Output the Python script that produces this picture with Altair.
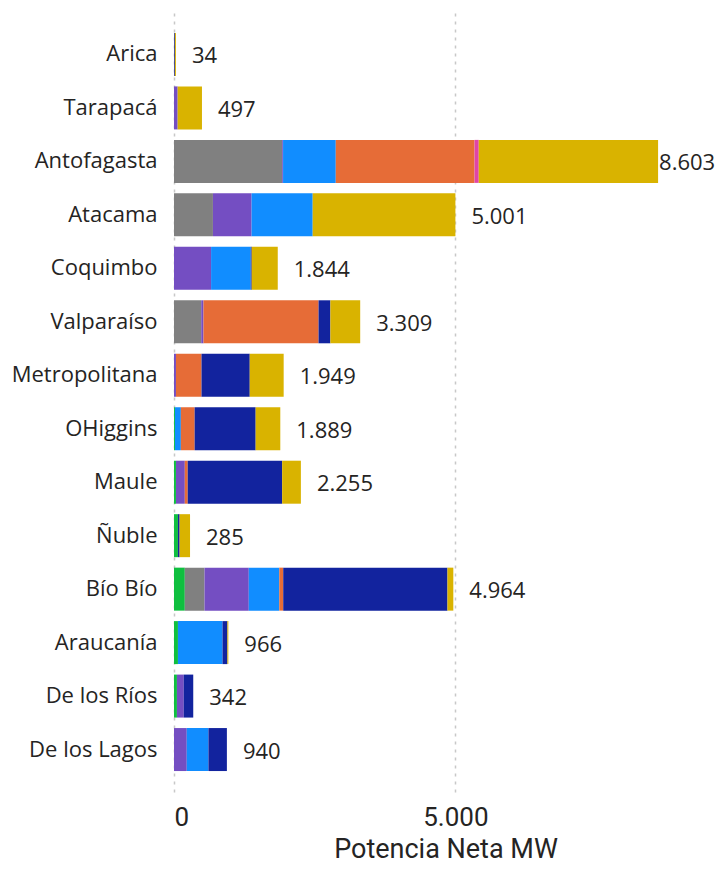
import altair as alt
import pandas as pd

regions = ["Arica", "Tarapacá", "Antofagasta", "Atacama", "Coquimbo", "Valparaíso",
           "Metropolitana", "OHiggins", "Maule", "Ñuble", "Bío Bío", "Araucanía",
           "De los Ríos", "De los Lagos"]

sources = ["Biomasa", "Carbón", "Diésel", "Eólica", "Gas Natural", "Geotermia", "Hidro", "Solar"]
colors = ["#0FBF3F", "#808080", "#744EC2", "#118DFF", "#E66C37", "#E044A7", "#12239E", "#D9B300"]

biomasa     = [0, 0, 0, 0, 0, 0, 0, 17, 35, 70, 192, 70, 52, 0]
carbon      = [0, 0, 1923, 692, 0, 484, 0, 0, 0, 0, 350, 0, 0, 0]
diesel      = [0, 65, 15, 687, 659, 40, 35, 0, 157, 0, 787, 0, 122, 227]
eolica      = [0, 0, 937, 1086, 705, 0, 0, 105, 0, 0, 542, 792, 0, 385]
gas         = [0, 0, 2466, 0, 0, 2045, 454, 245, 52, 0, 70, 0, 0, 0]
geotermia   = [0, 0, 75, 0, 0, 0, 0, 0, 0, 0, 0, 0, 0, 0]
hidro       = [15, 0, 0, 0, 17, 210, 857, 1084, 1678, 30, 2919, 87, 168, 328]
solar       = [19, 432, 3187, 2536, 463, 530, 603, 438, 333, 185, 104, 17, 0, 0]
totals      = [34, 497, 8603, 5001, 1844, 3309, 1949, 1889, 2255, 285, 4964, 966, 342, 940]

series = [biomasa, carbon, diesel, eolica, gas, geotermia, hidro, solar]
rows = []
for si, (s, vals) in enumerate(zip(sources, series)):
    for r, v in zip(regions, vals):
        rows.append({"Región": r, "Fuente": s, "orden": si, "MW": v})
df = pd.DataFrame(rows)
tot = pd.DataFrame({"Región": regions, "Total": totals})

FONT = "Open Sans"
y_enc = alt.Y("Región:N", sort=regions, title=None,
              scale=alt.Scale(paddingInner=0.196, paddingOuter=0.392),
              axis=alt.Axis(labelFont=FONT, labelFontSize=22, labelColor="#252423",
                            labelPadding=17, ticks=False, domain=False, grid=False))
x_scale = alt.Scale(domain=[0, 9650], nice=False)

bars = alt.Chart(df).mark_bar().encode(
    y=y_enc,
    x=alt.X("MW:Q", stack="zero", scale=x_scale, title="Potencia Neta MW",
            axis=alt.Axis(values=[0, 5000], format=",d", labelFont="Roboto",
                          labelFontSize=26, labelColor="#252423", labelPadding=12,
                          ticks=False, domain=False, grid=True, gridDash=[3, 5],
                          gridColor="#C8C8C8", gridWidth=1.5,
                          titleFont="Roboto", titleFontSize=27, titleFontWeight="normal",
                          titleColor="#252423", titlePadding=6)),
    color=alt.Color("Fuente:N", scale=alt.Scale(domain=sources, range=colors), legend=None),
    order=alt.Order("orden:Q"),
)

lab_small = alt.Chart(tot).transform_filter("datum.Total < 8000").mark_text(
    align="left", baseline="middle", dx=16, dy=2, font=FONT, fontSize=22, color="#252423"
).encode(y=alt.Y("Región:N", sort=regions), x=alt.X("Total:Q", scale=x_scale),
         text=alt.Text("Total:Q", format=",d"))

lab_big = alt.Chart(tot).transform_filter("datum.Total >= 8000").mark_text(
    align="left", baseline="middle", dx=1, dy=2, font=FONT, fontSize=22, color="#252423"
).encode(y=alt.Y("Región:N", sort=regions), x=alt.X("Total:Q", scale=x_scale),
         text=alt.Text("Total:Q", format=",d"))

chart = alt.layer(bars, lab_small, lab_big).properties(
    width=543, height=780,
    autosize=alt.AutoSizeParams(type="none"),
    padding={"left": 166, "top": 4, "right": 0, "bottom": 71}
).configure_view(stroke=None)

chart.save("out.html", embed_options={
    "renderer": "svg", "actions": False,
    "formatLocale": {"decimal": ",", "thousands": ".", "grouping": [3], "currency": ["$", ""]},
})
